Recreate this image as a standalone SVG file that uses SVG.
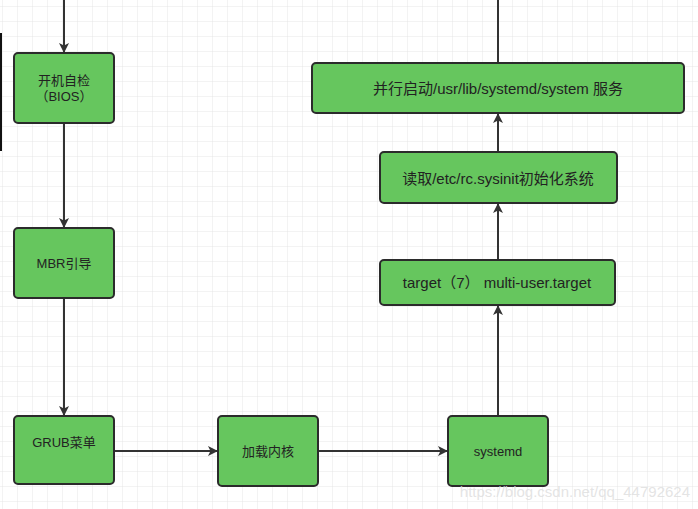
<svg xmlns="http://www.w3.org/2000/svg" width="698" height="509" viewBox="0 0 698 509">
<defs>
<pattern id="g" width="15" height="15" patternUnits="userSpaceOnUse" x="3" y="7"><path d="M15 0V15M0 15H15" fill="none" stroke="#e6e6e6" stroke-width="1"/></pattern>
<marker id="a" markerWidth="10" markerHeight="10" refX="9" refY="5" orient="auto" markerUnits="userSpaceOnUse"><path d="M0 0L10 5L0 10L2.5 5Z" fill="#333"/></marker>
</defs>
<style>
.n{fill:#66c65e;stroke:#2b2b2b;stroke-width:2}
.t{font-family:"Liberation Sans","Noto Sans CJK SC",sans-serif;fill:#222;text-anchor:middle;dominant-baseline:central}
.c{stroke:#333;stroke-width:2;fill:none}
</style>
<rect width="698" height="509" fill="#fff"/>
<rect width="698" height="509" fill="url(#g)"/>
<rect x="0" y="33" width="2" height="118" fill="#111"/>
<g id="connectors">
<path class="c" d="M64 0V52" marker-end="url(#a)"/>
<path class="c" d="M64 123V227" marker-end="url(#a)"/>
<path class="c" d="M64 298V415" marker-end="url(#a)"/>
<path class="c" d="M114 451H217" marker-end="url(#a)"/>
<path class="c" d="M318 451H447" marker-end="url(#a)"/>
<path class="c" d="M498 416V306" marker-end="url(#a)"/>
<path class="c" d="M498 260V204" marker-end="url(#a)"/>
<path class="c" d="M498 152V114" marker-end="url(#a)"/>
<path class="c" d="M498 0V63"/>
</g>
<g id="n1"><rect class="n" x="14" y="53" width="100" height="70" rx="4"/><text class="t" x="64" y="80" font-size="13">开机自检</text><text class="t" x="64" y="96" font-size="13">（BIOS）</text></g>
<g id="n2"><rect class="n" x="14" y="228" width="100" height="70" rx="4"/><text class="t" x="64" y="263" font-size="13">MBR引导</text></g>
<g id="n3"><rect class="n" x="14" y="416" width="100" height="68" rx="4"/><text class="t" x="64" y="442" font-size="13">GRUB菜单</text></g>
<g id="n4"><rect class="n" x="218" y="416" width="100" height="70" rx="4"/><text class="t" x="268" y="451" font-size="13">加载内核</text></g>
<g id="n5"><rect class="n" x="448" y="416" width="100" height="70" rx="4"/><text class="t" x="498" y="451" font-size="13">systemd</text></g>
<g id="n6"><rect class="n" x="380" y="260" width="235" height="45" rx="4"/><text class="t" x="497" y="282" font-size="15">target（7） multi-user.target</text></g>
<g id="n7"><rect class="n" x="380" y="152" width="237" height="51" rx="4"/><text class="t" x="498" y="178" font-size="15">读取/etc/rc.sysinit初始化系统</text></g>
<g id="n8"><rect class="n" x="312" y="63" width="372" height="50" rx="4"/><text class="t" x="498" y="88" font-size="15">并行启动/usr/lib/systemd/system 服务</text></g>
<text x="690" y="497" font-family="Liberation Sans,sans-serif" font-size="15" fill="#ddd" fill-opacity="0.8" text-anchor="end">https://blog.csdn.net/qq_44792624</text>
</svg>
